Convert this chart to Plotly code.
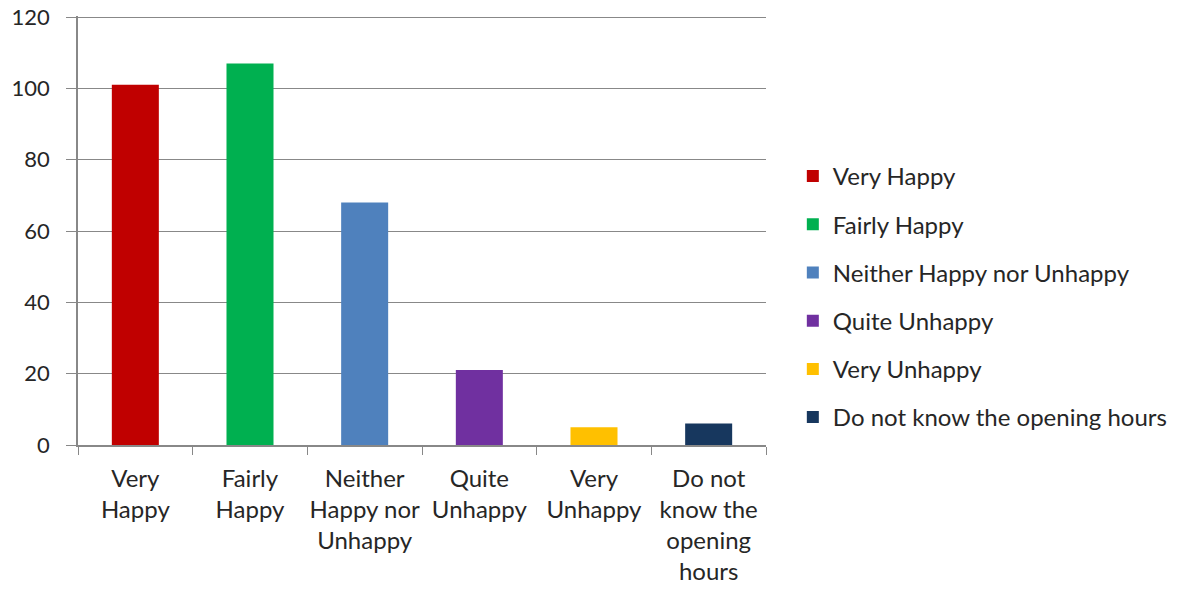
import plotly.graph_objects as go

categories = ["Very Happy", "Fairly Happy", "Neither Happy nor Unhappy",
              "Quite Unhappy", "Very Unhappy", "Do not know the opening hours"]
tick_labels = ["Very<br>Happy", "Fairly<br>Happy", "Neither<br>Happy nor<br>Unhappy",
               "Quite<br>Unhappy", "Very<br>Unhappy", "Do not<br>know the<br>opening<br>hours"]
values = [101, 107, 68, 21, 5, 6]
y_ticks = [0, 20, 40, 60, 80, 100, 120]
colors = ["#C00000", "#00B050", "#4F81BD", "#7030A0", "#FFC000", "#17375E"]

FONT = "Lato"
TXT = "#262626"

fig = go.Figure()
for i, (cat, val, col) in enumerate(zip(categories, values, colors)):
    fig.add_trace(go.Bar(
        x=[tick_labels[i]], y=[val], name=cat,
        marker=dict(color=col, line=dict(width=0)),
        width=0.41, legendgroup=f"g{i}",
    ))

# body margin removed below, so plot area at page x 78..766, y 16..445
fig.update_layout(
    width=1182, height=592,
    margin=dict(l=78, r=416, t=16, b=147, autoexpand=False),
    paper_bgcolor="white", plot_bgcolor="white",
    barmode="overlay",
    font=dict(family=FONT, size=24, color=TXT),
    showlegend=True,
    legend=dict(x=1.039, y=0.345, xanchor="left", yanchor="middle",
                font=dict(family=FONT, size=24, color=TXT),
                tracegroupgap=14, itemwidth=30, bgcolor="rgba(0,0,0,0)"),
)
fig.update_xaxes(
    type="category", categoryorder="array", categoryarray=tick_labels,
    showline=True, linecolor="#888888", linewidth=1.5,
    ticks="outside", tickson="boundaries", ticklen=8, tickcolor="#888888",
    showgrid=False, automargin=False, ticklabelstandoff=11, tickangle=0,
    tickfont=dict(size=24, family=FONT, color=TXT),
)
fig.update_yaxes(
    range=[0, 120.3], tickvals=y_ticks,
    showline=True, linecolor="#888888", linewidth=1.5,
    ticks="outside", ticklen=10, tickcolor="#888888",
    showgrid=True, gridcolor="#888888", gridwidth=1.2,
    zeroline=False, automargin=False, ticklabelstandoff=12,
    tickfont=dict(size=22, family=FONT, color=TXT),
)

fig.write_html("out.html", config={"displayModeBar": False},
               post_script="document.body.style.margin='0px';")
